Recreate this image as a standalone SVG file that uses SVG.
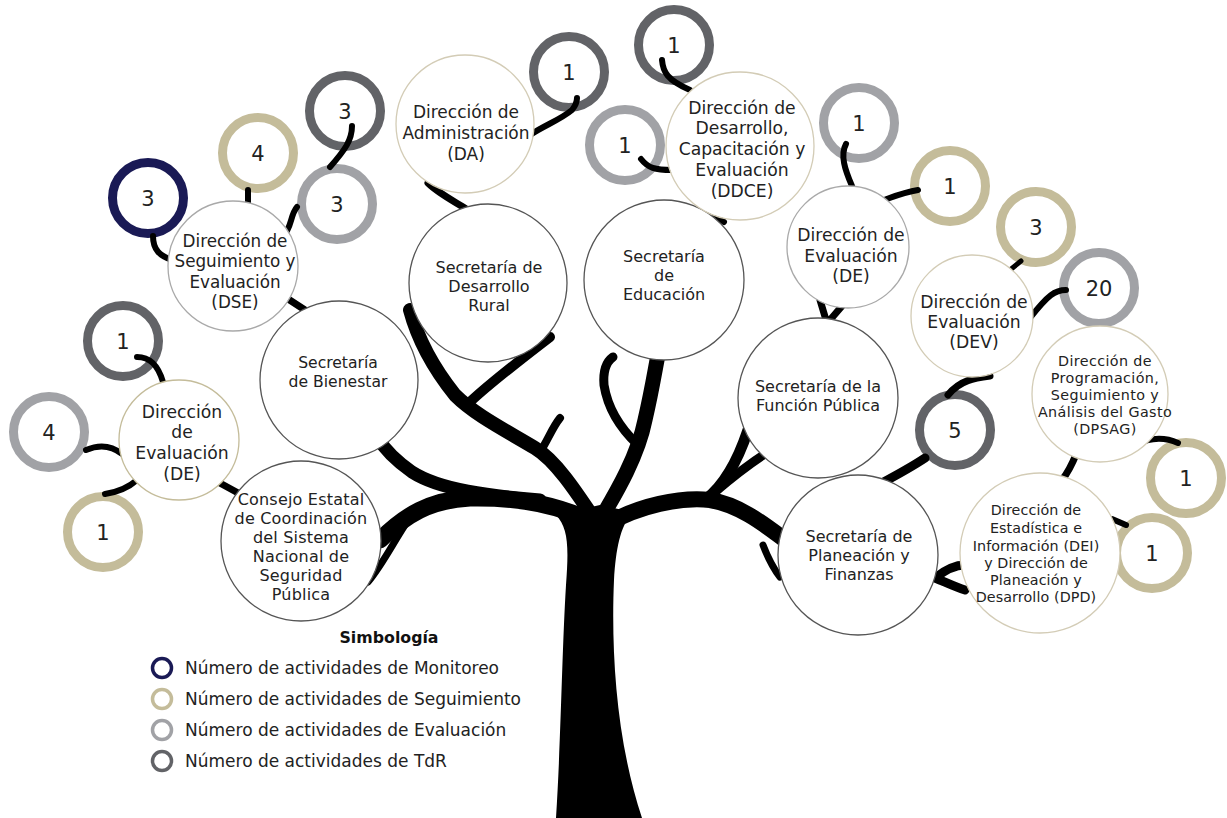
<svg xmlns="http://www.w3.org/2000/svg" width="1227" height="818" viewBox="0 0 1227 818">
<style>
.node{fill:#fff;stroke-width:1.3}
.sec{stroke:#555}
.dir{stroke:#d3ccb6}
.gry{stroke:#a9a9a9}
.ring{fill:#fff;stroke-width:9}
.mon{stroke:#1a1a55}
.seg{stroke:#c4bc9a}
.eva{stroke:#a1a2a6}
.tdr{stroke:#626367}
.t{font-family:"DejaVu Sans","Liberation Sans",sans-serif;fill:#222;text-anchor:middle}
.n{font-size:21px}
.m{font-size:16px}
.b{font-size:17.2px}
.s{font-size:14.3px;letter-spacing:0.4px}
.lg{font-family:"DejaVu Sans","Liberation Sans",sans-serif;font-size:17px;fill:#222}
.li{fill:none;stroke-width:3.5}
</style>
<rect width="1227" height="818" fill="#fff"/>
<g id="tree" fill="none" stroke="#000" stroke-linecap="round" stroke-linejoin="round">
<path fill="#000" stroke="none" d="M556 818 C561 740 562 650 566 585 C569 545 568 528 556 515 L600 505 L632 512 C620 528 616 548 614 580 C611 650 616 740 642 818 Z"/>
<path stroke-width="17" d="M600 525 C560 505 520 497 470 498 C430 500 405 515 380 540"/>
<path stroke-width="13" d="M540 500 C490 496 440 490 412 472 C395 460 385 450 378 438"/>
<path stroke-width="7" d="M405 525 C392 545 382 565 368 582"/>
<path stroke-width="14" d="M595 520 C575 490 555 460 535 448 C505 430 475 415 455 395 C435 370 418 340 410 310"/>
<path stroke-width="10" d="M470 402 C488 385 520 360 550 337"/>
<path stroke-width="8" d="M540 452 C548 440 552 428 560 418"/>
<path stroke-width="15" d="M600 520 C618 490 638 455 645 420 C652 390 655 370 658 355"/>
<path stroke-width="9" d="M638 445 C622 430 608 410 604 385 C603 372 606 362 613 357"/>
<path stroke-width="16" d="M605 525 C640 505 680 497 710 500 C740 505 765 525 785 540"/>
<path stroke-width="11" d="M705 500 C725 485 738 460 748 430"/>
<path stroke-width="9" d="M715 492 C735 475 752 462 768 452"/>
<path stroke-width="7" d="M763 545 C768 558 773 568 780 577"/>
</g>
<g id="rings">
<g id="r1"><circle class="ring mon" cx="148" cy="198" r="35.5"/><text class="t n" x="148" y="205.5">3</text></g>
<g id="r2"><circle class="ring seg" cx="258" cy="153" r="35.5"/><text class="t n" x="258" y="160.5">4</text></g>
<g id="r3"><circle class="ring tdr" cx="345" cy="111" r="35.5"/><text class="t n" x="345" y="118.5">3</text></g>
<g id="r4"><circle class="ring eva" cx="337" cy="204" r="35.5"/><text class="t n" x="337" y="211.5">3</text></g>
<g id="r5"><circle class="ring tdr" cx="123" cy="341" r="35.5"/><text class="t n" x="123" y="348.5">1</text></g>
<g id="r6"><circle class="ring eva" cx="49" cy="432" r="35.5"/><text class="t n" x="49" y="439.5">4</text></g>
<g id="r7"><circle class="ring seg" cx="103" cy="532" r="35.5"/><text class="t n" x="103" y="539.5">1</text></g>
<g id="r8"><circle class="ring tdr" cx="569" cy="72" r="35.5"/><text class="t n" x="569" y="79.5">1</text></g>
<g id="r9"><circle class="ring tdr" cx="674" cy="45" r="35.5"/><text class="t n" x="674" y="52.5">1</text></g>
<g id="r10"><circle class="ring eva" cx="625" cy="145" r="35.5"/><text class="t n" x="625" y="152.5">1</text></g>
<g id="r11"><circle class="ring eva" cx="859" cy="123" r="35.5"/><text class="t n" x="859" y="130.5">1</text></g>
<g id="r12"><circle class="ring seg" cx="950" cy="186" r="35.5"/><text class="t n" x="950" y="193.5">1</text></g>
<g id="r13"><circle class="ring seg" cx="1036" cy="227" r="35.5"/><text class="t n" x="1036" y="234.5">3</text></g>
<g id="r14"><circle class="ring eva" cx="1099" cy="288" r="35.5"/><text class="t n" x="1099" y="295.5">20</text></g>
<g id="r15"><circle class="ring tdr" cx="955" cy="430" r="35.5"/><text class="t n" x="955" y="437.5">5</text></g>
<g id="r16"><circle class="ring seg" cx="1186" cy="478" r="35.5"/><text class="t n" x="1186" y="485.5">1</text></g>
<g id="r17"><circle class="ring seg" cx="1152" cy="553" r="35.5"/><text class="t n" x="1152" y="560.5">1</text></g>
</g>
<g id="connectors" fill="none" stroke="#000" stroke-width="6" stroke-linecap="round">
<path d="M153 236 C153 250 160 256 172 260"/>
<path d="M248 190 L248 203"/>
<path d="M297 207 C290 215 292 228 283 236"/>
<path d="M352 126 C352 140 345 150 330 167"/>
<path stroke-width="7" d="M285 297 L305 310"/>
<path d="M137 357 C150 357 158 365 163 382"/>
<path d="M86 450 C100 444 112 446 122 454"/>
<path d="M105 494 C118 492 128 488 137 480"/>
<path stroke-width="7" d="M218 482 L240 494"/>
<path d="M530 135 C545 125 560 120 572 110 C576 105 577 100 577 98"/>
<path stroke-width="7" d="M428 183 C438 193 452 200 468 210"/>
<path d="M662 60 C663 72 667 80 690 90"/>
<path d="M641 159 C648 168 655 170 672 170"/>
<path d="M708 210 L724 222"/>
<path d="M846 144 C840 155 845 170 852 186"/>
<path d="M884 200 C895 196 905 192 918 190"/>
<path stroke-width="7" d="M820 300 L826 320 M842 306 L830 320"/>
<path stroke-width="5" d="M1021 261 L1010 270"/>
<path d="M1066 290 C1055 290 1048 295 1030 318"/>
<path stroke-width="7" d="M990 376 C975 378 960 380 948 395"/>
<path stroke-width="9" d="M925 458 C910 468 895 476 880 484"/>
<path stroke-width="7" d="M1077 452 C1073 462 1070 470 1062 480"/>
<path d="M1131 446 C1145 440 1160 435 1178 443"/>
<path d="M1112 519 L1126 525"/>
<path stroke-width="9" d="M935 578 C945 570 955 565 965 565 M935 578 C945 582 955 587 965 590"/>
</g>
<g id="n-dse"><circle class="node gry" cx="233" cy="266" r="65"/>
<text class="t b" style="font-size:16.8px"><tspan x="235" y="247">Dirección de</tspan><tspan x="235" y="267">Seguimiento y</tspan><tspan x="235" y="288">Evaluación</tspan><tspan x="235" y="308">(DSE)</tspan></text></g>
<g id="n-bienestar"><circle class="node sec" cx="339" cy="380" r="79"/>
<text class="t m" style="font-size:15.6px"><tspan x="338" y="368">Secretaría</tspan><tspan x="338" y="387">de Bienestar</tspan></text></g>
<g id="n-de-left"><circle class="node seg" style="stroke-width:1.3" cx="179" cy="440" r="60"/>
<text class="t b"><tspan x="182" y="418">Dirección</tspan><tspan x="182" y="438">de</tspan><tspan x="182" y="459">Evaluación</tspan><tspan x="182" y="480">(DE)</tspan></text></g>
<g id="n-consejo"><circle class="node sec" cx="301" cy="541" r="80"/>
<text class="t m" style="letter-spacing:0.2px"><tspan x="301" y="505">Consejo Estatal</tspan><tspan x="301" y="524">de Coordinación</tspan><tspan x="301" y="543">del Sistema</tspan><tspan x="301" y="562">Nacional de</tspan><tspan x="301" y="581">Seguridad</tspan><tspan x="301" y="600">Pública</tspan></text></g>
<g id="n-da"><circle class="node dir" cx="465" cy="124" r="69"/>
<text class="t b" style="font-size:17px"><tspan x="466" y="118">Dirección de</tspan><tspan x="466" y="139">Administración</tspan><tspan x="466" y="160">(DA)</tspan></text></g>
<g id="n-rural"><circle class="node sec" cx="488" cy="283" r="79"/>
<text class="t m"><tspan x="489" y="273">Secretaría de</tspan><tspan x="489" y="292">Desarrollo</tspan><tspan x="489" y="311">Rural</tspan></text></g>
<g id="n-educacion"><circle class="node sec" cx="664" cy="280" r="80"/>
<text class="t m"><tspan x="664" y="262">Secretaría</tspan><tspan x="664" y="281">de</tspan><tspan x="664" y="300">Educación</tspan></text></g>
<g id="n-ddce"><circle class="node dir" cx="740" cy="146" r="74"/>
<text class="t b"><tspan x="742" y="114">Dirección de</tspan><tspan x="742" y="134">Desarrollo,</tspan><tspan x="742" y="155">Capacitación y</tspan><tspan x="742" y="176">Evaluación</tspan><tspan x="742" y="197">(DDCE)</tspan></text></g>
<g id="n-de-right"><circle class="node gry" cx="848" cy="247" r="61"/>
<text class="t b"><tspan x="851" y="241">Dirección de</tspan><tspan x="851" y="262">Evaluación</tspan><tspan x="851" y="282">(DE)</tspan></text></g>
<g id="n-fp"><circle class="node sec" cx="818" cy="398" r="80"/>
<text class="t m"><tspan x="818" y="392">Secretaría de la</tspan><tspan x="818" y="411">Función Pública</tspan></text></g>
<g id="n-dev"><circle class="node dir" cx="972" cy="316" r="61"/>
<text class="t b"><tspan x="974" y="308">Dirección de</tspan><tspan x="974" y="328">Evaluación</tspan><tspan x="974" y="348">(DEV)</tspan></text></g>
<g id="n-dpsag"><circle class="node dir" cx="1100" cy="394" r="68"/>
<text class="t s"><tspan x="1105" y="366">Dirección de</tspan><tspan x="1105" y="383">Programación,</tspan><tspan x="1105" y="400">Seguimiento y</tspan><tspan x="1105" y="417">Análisis del Gasto</tspan><tspan x="1105" y="434">(DPSAG)</tspan></text></g>
<g id="n-dei"><circle class="node dir" cx="1040" cy="553" r="80"/>
<text class="t s" style="letter-spacing:0.1px"><tspan x="1036" y="515">Dirección de</tspan><tspan x="1036" y="533">Estadística e</tspan><tspan x="1036" y="551">Información (DEI)</tspan><tspan x="1036" y="568">y Dirección de</tspan><tspan x="1036" y="585">Planeación y</tspan><tspan x="1036" y="602">Desarrollo (DPD)</tspan></text></g>
<g id="n-planeacion"><circle class="node sec" cx="858" cy="555" r="80"/>
<text class="t m"><tspan x="859" y="542">Secretaría de</tspan><tspan x="859" y="561">Planeación y</tspan><tspan x="859" y="580">Finanzas</tspan></text></g>
<g id="legend">
<text x="389" y="643" font-family="'DejaVu Sans','Liberation Sans',sans-serif" font-size="15.8" font-weight="bold" text-anchor="middle" fill="#111">Simbología</text>
<circle class="li mon" cx="162" cy="668" r="9.5"/><text class="lg" x="185" y="674">Número de actividades de Monitoreo</text>
<circle class="li seg" cx="162" cy="699" r="9.5"/><text class="lg" x="185" y="705">Número de actividades de Seguimiento</text>
<circle class="li eva" cx="162" cy="730" r="9.5"/><text class="lg" x="185" y="736">Número de actividades de Evaluación</text>
<circle class="li tdr" cx="162" cy="761" r="9.5"/><text class="lg" x="185" y="767">Número de actividades de TdR</text>
</g>
</svg>
